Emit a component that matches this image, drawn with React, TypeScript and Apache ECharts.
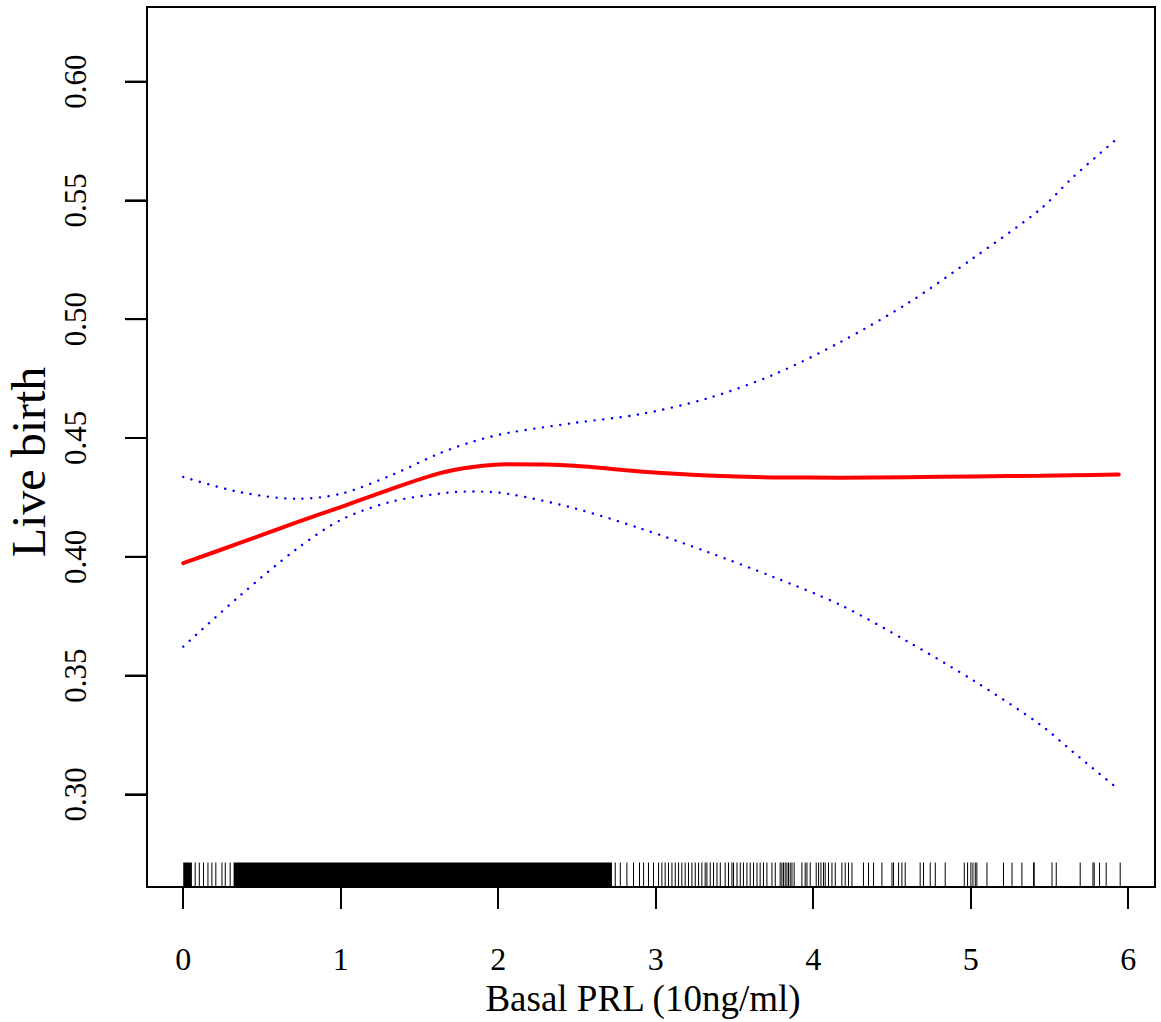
import React, { useEffect, useRef } from "react";
import * as echarts from "echarts";

// Curve grid (Basal PRL, 10ng/ml)
const xs = [0, 0.36, 0.72, 1.0, 1.31, 1.63, 1.84, 2.06, 2.48, 2.9, 3.33, 3.75, 4.17, 4.6, 5.02, 5.44, 5.65, 5.94];
// Fitted live birth probability
const fit = [0.3973, 0.4058, 0.4145, 0.4209, 0.4283, 0.4352, 0.4378, 0.4389, 0.4383, 0.4359, 0.4342, 0.4334, 0.4333, 0.4335, 0.4338, 0.4341, 0.4343, 0.4346];
// 95% CI upper
const upper = [0.4336, 0.4272, 0.4244, 0.4265, 0.434, 0.4436, 0.4485, 0.4521, 0.4563, 0.46, 0.4667, 0.4767, 0.4903, 0.5067, 0.5259, 0.5462, 0.5598, 0.5766];
// 95% CI lower
const lower = [0.3622, 0.3836, 0.4033, 0.4155, 0.423, 0.4266, 0.4275, 0.4265, 0.4205, 0.412, 0.402, 0.3914, 0.3798, 0.3643, 0.3478, 0.3294, 0.3178, 0.302];

// Rug: ranges so dense they render solid
const rugBands = [
  [0.0, 0.055],
  [0.32, 2.722],
];
// Rug: individual observations
const rugTicks = [
  0.076, 0.102, 0.129, 0.157, 0.182, 0.207, 0.246, 0.267, 0.298,
  2.743, 2.775, 2.817, 2.859, 2.897, 2.923, 2.954, 2.986, 3.018, 3.039, 3.06, 3.081, 3.103, 3.124, 3.145,
  3.166, 3.187, 3.208, 3.23, 3.251, 3.272, 3.293, 3.314, 3.325, 3.346, 3.367, 3.389, 3.41, 3.441, 3.462,
  3.484, 3.494, 3.516, 3.537, 3.557, 3.579, 3.6, 3.621, 3.643, 3.663, 3.684, 3.706,
  3.738, 3.759, 3.79, 3.801, 3.811, 3.822, 3.833, 3.843, 3.854, 3.865, 3.879, 3.928, 3.949, 3.96, 3.981,
  4.019, 4.034, 4.049, 4.065, 4.076, 4.097, 4.119, 4.14, 4.182, 4.203, 4.224, 4.246, 4.319, 4.351, 4.383,
  4.436, 4.5, 4.51, 4.542, 4.563, 4.584, 4.679, 4.7, 4.743, 4.775, 4.838,
  4.959, 4.98, 5.001, 5.014, 5.029, 5.039, 5.103, 5.208, 5.262, 5.325, 5.399, 5.403, 5.516, 5.543,
  5.695, 5.776, 5.784, 5.818, 5.86, 5.949,
];

const xTicks = [0, 1, 2, 3, 4, 5, 6];
const yTicks = [0.3, 0.35, 0.4, 0.45, 0.5, 0.55, 0.6];

const X_MIN = -0.23;
const X_MAX = 6.17;
const Y_MIN = 0.261;
const Y_MAX = 0.6314;
const RUG_TOP = 0.2713;
const TICK_LEN = 22;

const FONT = "Liberation Serif";

export default function App() {
  const ref = useRef<HTMLDivElement>(null);
  useEffect(() => {
    if (!ref.current) return;
    const chart = echarts.init(ref.current, null, { renderer: "svg" });
    const pair = (ys: number[]) => xs.map((x, i) => [x, ys[i]]);
    const dotted = { color: "#0000ff", width: 2.4, type: [0.1, 8.6], cap: "round" };
    chart.setOption({
      animation: false,
      backgroundColor: "#ffffff",
      grid: {
        left: 147,
        right: 6,
        top: 7,
        bottom: 135,
        show: true,
        borderColor: "#000",
        borderWidth: 2,
        backgroundColor: "transparent",
        containLabel: false,
        outerBoundsMode: "none",
      },
      xAxis: {
        type: "value",
        min: X_MIN,
        max: X_MAX,
        position: "bottom",
        name: "Basal PRL (10ng/ml)",
        nameLocation: "middle",
        nameGap: 92,
        nameTextStyle: { fontFamily: FONT, fontSize: 37, color: "#000", padding: [0, 16, 0, 0] },
        axisLine: { show: true, onZero: false, lineStyle: { color: "#000", width: 2 } },
        splitLine: { show: false },
        axisTick: {
          show: true,
          inside: false,
          length: TICK_LEN,
          lineStyle: { color: "#000", width: 2 },
          customValues: xTicks,
        },
        axisLabel: {
          show: true,
          margin: 56,
          fontFamily: FONT,
          fontSize: 32,
          color: "#000",
          customValues: xTicks,
          formatter: (v: number) => String(v),
        },
      },
      yAxis: {
        type: "value",
        min: Y_MIN,
        max: Y_MAX,
        position: "left",
        name: "Live birth",
        nameLocation: "middle",
        nameGap: 86,
        nameRotate: 90,
        nameTextStyle: { fontFamily: FONT, fontSize: 48, color: "#000", padding: [0, 30, 0, 0] },
        axisLine: { show: true, onZero: false, lineStyle: { color: "#000", width: 2 } },
        splitLine: { show: false },
        axisTick: {
          show: true,
          inside: false,
          length: TICK_LEN,
          lineStyle: { color: "#000", width: 2 },
          customValues: yTicks,
        },
        axisLabel: {
          show: true,
          rotate: 90,
          margin: 56,
          fontFamily: FONT,
          fontSize: 31,
          color: "#000",
          customValues: yTicks,
          formatter: (v: number) => v.toFixed(2),
        },
      },
      series: [
        {
          type: "custom",
          name: "rugBands",
          data: rugBands,
          encode: { x: [0, 1] },
          renderItem: (params: any, api: any) => {
            const a = api.coord([api.value(0), RUG_TOP]);
            const b = api.coord([api.value(1), Y_MIN]);
            return {
              type: "rect",
              shape: { x: a[0], y: a[1], width: Math.max(1, b[0] - a[0]), height: b[1] - a[1] },
              style: { fill: "#000" },
            };
          },
          silent: true,
          z: 1,
        },
        {
          type: "custom",
          name: "rugTicks",
          data: rugTicks.map((v) => [v]),
          encode: { x: 0 },
          renderItem: (params: any, api: any) => {
            const a = api.coord([api.value(0), RUG_TOP]);
            const b = api.coord([api.value(0), Y_MIN]);
            return {
              type: "line",
              shape: { x1: a[0], y1: a[1], x2: b[0], y2: b[1] },
              style: { stroke: "#000", lineWidth: 1 },
            };
          },
          silent: true,
          z: 1,
        },
        {
          type: "line",
          name: "upper",
          data: pair(upper),
          smooth: 0.3,
          showSymbol: false,
          lineStyle: dotted,
          z: 3,
        },
        {
          type: "line",
          name: "lower",
          data: pair(lower),
          smooth: 0.3,
          showSymbol: false,
          lineStyle: dotted,
          z: 3,
        },
        {
          type: "line",
          name: "fit",
          data: pair(fit),
          smooth: 0.3,
          showSymbol: false,
          lineStyle: { color: "#ff0000", width: 4, cap: "round" },
          z: 4,
        },
      ],
    });
    // y tick marks, placed through the axis scale
    const tickLines = yTicks.map((v) => {
      const p = chart.convertToPixel({ xAxisIndex: 0, yAxisIndex: 0 }, [X_MIN, v]) as number[];
      return {
        type: "line",
        z: 100,
        silent: true,
        shape: { x1: p[0] - TICK_LEN, y1: p[1], x2: p[0], y2: p[1] },
        style: { stroke: "#000", lineWidth: 2 },
      };
    });
    chart.setOption({ graphic: tickLines });
    return () => chart.dispose();
  }, []);
  return (
    <div
      ref={ref}
      style={{ position: "fixed", left: 0, top: 0, width: 1161, height: 1022, background: "#fff" }}
    />
  );
}
